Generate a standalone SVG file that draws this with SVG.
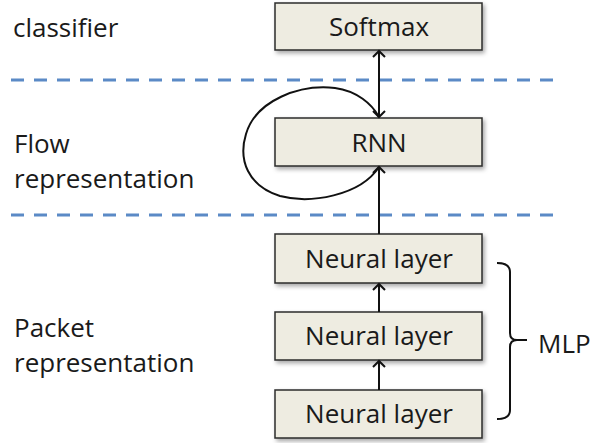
<svg xmlns="http://www.w3.org/2000/svg" width="592" height="443" viewBox="0 0 592 443">
<style>
.box{fill:#EEECE1;stroke:#2b2b2b;stroke-width:1.5}
.t{font-family:"Open Sans","Liberation Sans",sans-serif;font-size:26px;fill:#1a1a1a}
.c{text-anchor:middle}
.ln{fill:none;stroke:#111;stroke-width:2}
.dash{stroke:#5B8AC6;stroke-width:3;stroke-dasharray:13 10}
</style>
<defs>
<filter id="sh" x="-10%" y="-20%" width="130%" height="150%">
<feDropShadow dx="2" dy="2.5" stdDeviation="2" flood-color="#000" flood-opacity="0.35"/>
</filter>
<marker id="ah" markerWidth="14" markerHeight="14" refX="7" refY="7" orient="auto-start-reverse" markerUnits="userSpaceOnUse">
<path d="M1,1 L7,7 L1,13" fill="none" stroke="#111" stroke-width="2"/>
</marker>
</defs>
<line class="dash" x1="11" y1="80" x2="558" y2="80"/>
<line class="dash" x1="11" y1="215" x2="558" y2="215"/>
<text class="t" x="13" y="37">classifier</text>
<text class="t" x="14" y="153">Flow</text>
<text class="t" x="14" y="188">representation</text>
<text class="t" x="14" y="337">Packet</text>
<text class="t" x="14" y="372">representation</text>
<g id="softmax"><rect class="box" x="275" y="3" width="207" height="47" filter="url(#sh)"/><text class="t c" x="379" y="36">Softmax</text></g>
<g id="rnn"><rect class="box" x="275" y="118" width="207" height="48" filter="url(#sh)"/><text class="t c" x="379" y="152">RNN</text></g>
<g id="nl1"><rect class="box" x="275" y="234" width="207" height="49" filter="url(#sh)"/><text class="t c" x="379" y="268">Neural layer</text></g>
<g id="nl2"><rect class="box" x="275" y="312" width="207" height="48" filter="url(#sh)"/><text class="t c" x="379" y="345">Neural layer</text></g>
<g id="nl3"><rect class="box" x="275" y="390" width="207" height="48" filter="url(#sh)"/><text class="t c" x="379" y="423">Neural layer</text></g>
<g id="mlp"><path class="ln" d="M497,263 Q510,263 510,272 L510,333 Q510,340 517,340 L527,340 M517,340 Q510,340 510,347 L510,410 Q510,419 497,419"/><text class="t" x="538" y="353">MLP</text></g>
<g id="connectors">
<line class="ln" x1="379" y1="51" x2="379" y2="117" marker-start="url(#ah)" marker-end="url(#ah)"/>
<line class="ln" x1="379" y1="234" x2="379" y2="167" marker-end="url(#ah)"/>
<line class="ln" x1="379" y1="312" x2="379" y2="284" marker-end="url(#ah)"/>
<line class="ln" x1="379" y1="390" x2="379" y2="361" marker-end="url(#ah)"/>
<path class="ln" d="M379,167 C360,196 310,204 280,196 C248,186 238,160 246,134 C256,100 300,84 335,88 C357,91 372,104 379,117"/>
</g>
</svg>
